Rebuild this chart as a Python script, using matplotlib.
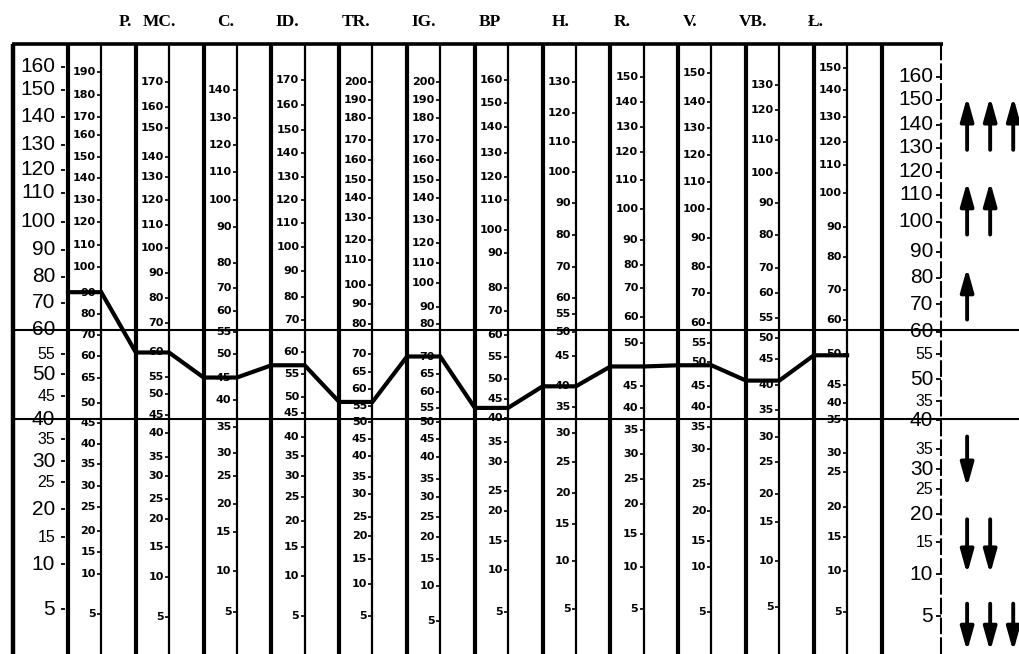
import numpy as np
import matplotlib
matplotlib.use('Agg')
import matplotlib.pyplot as plt
from matplotlib.transforms import blended_transform_factory

# escala tipica del formulario (valor -> fila impresa), no lineal
scale_vals = [0, 5, 10, 15, 20, 25, 30, 35, 40, 45, 50, 55, 60, 70, 80, 90, 100, 110, 120, 130, 140, 150, 160, 170]
scale_rows = [655, 610, 565, 538, 510, 483, 462, 440, 420, 397, 375, 355, 330, 303, 277, 250, 222, 193, 170, 145, 117, 90, 67, 44]

columns = ['P.', 'MC.', 'C.', 'ID.', 'TR.', 'IG.', 'BP', 'H.', 'R.', 'V.', 'VB.', 'Ł.']

left_labels = [160, 150, 140, 130, 120, 110, 100, 90, 80, 70, 60, 55, 50, 45, 40, 35, 30, 25, 20, 15, 10, 5]
right_labels = [160, 150, 140, 130, 120, 110, 100, 90, 80, 70, 60, 55, 50, 35, 40, 35, 30, 25, 20, 15, 10, 5]
right_std = [155.7, 146.3, 137.1, 128.8, 119.1, 109.3, 100, 89.3, 79.6, 69.3, 59.6, 55, 48.9, 43.9, 39.8, 32.7, 28.1, 23.7, 19.1, 14.1, 8.9, 4.2]

# puntuaciones directas de cada escala y su equivalente tipico
P_raw = [190, 180, 170, 160, 150, 140, 130, 120, 110, 100, 90, 80, 70, 60, 65, 50, 45, 40, 35, 30, 25, 20, 15, 10, 5]
P_std = [157.8, 148.1, 140, 133.6, 125.2, 116.5, 107.6, 100, 91.8, 83.7, 73.8, 65.6, 59.0, 54.5, 49.3, 43.6, 39.0, 33.9, 29.3, 24.3, 20.4, 16.1, 12.2, 8.9, 4.4]
MC_raw = [170, 160, 150, 140, 130, 120, 110, 100, 90, 80, 70, 60, 55, 50, 45, 40, 35, 30, 25, 20, 15, 10, 5]
MC_std = [153.5, 143.7, 136.1, 125.2, 117.0, 107.6, 98.9, 90.7, 81.5, 71.9, 62.6, 55.4, 49.5, 45.5, 40.9, 36.7, 30.9, 26.4, 21.9, 18.2, 13.1, 8.6, 4.1]
C_raw = [140, 130, 120, 110, 100, 90, 80, 70, 60, 55, 50, 45, 40, 35, 30, 25, 20, 15, 10, 5]
C_std = [150, 139.6, 130, 119.1, 107.6, 98.2, 85.2, 75.8, 66.7, 59.6, 55, 49.3, 44.3, 38.1, 32.0, 26.4, 20.9, 15.9, 9.2, 4.7]
ID_raw = [170, 160, 150, 140, 130, 120, 110, 100, 90, 80, 70, 60, 55, 50, 45, 40, 35, 30, 25, 20, 15, 10, 5]
ID_std = [154.3, 144.4, 135.4, 126.8, 117.0, 107.6, 99.6, 91.1, 81.9, 72.3, 63.7, 55.4, 50, 44.8, 41.4, 35.7, 31.1, 26.4, 22.2, 17.9, 13.1, 8.7, 4.2]
TR_raw = [200, 190, 180, 170, 160, 150, 140, 130, 120, 110, 100, 90, 80, 70, 65, 60, 55, 50, 45, 40, 35, 30, 25, 20, 15, 10, 5]
TR_std = [153.5, 146.3, 139.6, 131.8, 124.0, 115.7, 108.3, 101.4, 93.6, 86.3, 76.9, 69.3, 61.9, 55, 50.5, 46.6, 43.0, 39.3, 35, 31.1, 26.2, 22.8, 18.6, 15.2, 10.9, 7.8, 4.2]
IG_raw = [200, 190, 180, 170, 160, 150, 140, 130, 120, 110, 100, 90, 80, 70, 65, 60, 55, 50, 45, 40, 35, 30, 25, 20, 15, 10, 5]
IG_std = [153.5, 146.3, 139.6, 131.8, 124.0, 115.7, 108.3, 100.7, 92.5, 85.2, 77.7, 68.5, 61.9, 54.3, 50, 46.1, 42.5, 39.3, 35, 30.9, 25.7, 22.2, 18.6, 15, 10.9, 7.6, 3.7]
BP_raw = [160, 150, 140, 130, 120, 110, 100, 90, 80, 70, 60, 55, 50, 45, 40, 35, 30, 25, 20, 15, 10, 5]
BP_std = [154.3, 145.2, 136.4, 126.8, 117.0, 107.6, 97.1, 88.9, 75.8, 66.7, 59.0, 54.3, 48.9, 44.5, 40.2, 34.5, 29.8, 23.3, 19.6, 14.3, 9.4, 4.7]
H_raw = [130, 120, 110, 100, 90, 80, 70, 60, 55, 50, 45, 40, 35, 30, 25, 20, 15, 10, 5]
H_std = [153.5, 141.5, 131.1, 119.1, 106.6, 95.4, 83.7, 71.9, 65.6, 59.6, 54.5, 47.3, 42.7, 36.7, 29.8, 23.1, 17.3, 10.6, 5]
R_raw = [150, 140, 130, 120, 110, 100, 90, 80, 70, 60, 50, 45, 40, 35, 30, 25, 20, 15, 10, 5]
R_std = [155.7, 145.6, 136.4, 127.2, 115.7, 104.5, 93.6, 84.4, 75.8, 64.8, 57.4, 47.3, 42.5, 37.4, 31.6, 25.7, 20.9, 15.5, 9.7, 5]
V_raw = [150, 140, 130, 120, 110, 100, 90, 80, 70, 60, 55, 50, 45, 40, 35, 30, 25, 20, 15, 10, 5]
V_std = [157.4, 145.6, 136.1, 126.0, 114.8, 104.5, 94.3, 83.7, 73.8, 62.6, 57.4, 53.0, 47.3, 42.7, 38.1, 32.7, 24.6, 19.6, 14.3, 9.7, 4.7]
VB_raw = [130, 120, 110, 100, 90, 80, 70, 60, 55, 50, 45, 40, 35, 30, 25, 20, 15, 10, 5]
VB_std = [152.2, 142.6, 131.8, 118.7, 106.6, 95.4, 83.3, 73.8, 64.4, 58.4, 53.8, 47.7, 42.0, 35.5, 29.8, 22.8, 17.7, 10.6, 5.2]
E_raw = [150, 140, 130, 120, 110, 100, 90, 80, 70, 60, 50, 45, 40, 35, 30, 25, 20, 15, 10, 5]
E_std = [159.6, 150, 140, 131.1, 122.0, 110, 98.2, 87.4, 75.0, 63.7, 55, 47.7, 43.6, 39.8, 32.0, 27.4, 20.4, 15, 9.2, 4.7]

raw_scales = [P_raw, MC_raw, C_raw, ID_raw, TR_raw, IG_raw, BP_raw, H_raw, R_raw, V_raw, VB_raw, E_raw]
std_scales = [P_std, MC_std, C_std, ID_std, TR_std, IG_std, BP_std, H_std, R_std, V_std, VB_std, E_std]

# perfil del sujeto (puntuacion tipica por escala)
profile = [74.0, 55.4, 49.3, 52.3, 43.8, 54.5, 42.5, 47.3, 52.0, 52.3, 48.6, 54.8]

# flechas de la derecha: numero de flechas, punta, cola
arrow_n = [3, 2, 1, 1, 2, 3]
arrow_head = [147.4, 114.8, 83.3, 24.1, 8.9, 0.3]
arrow_tail = [128.0, 95.4, 63.7, 35.7, 18.2, 5.6]

head_dx = [0.84, 0.35, 0.33, 0.23, 0.25, 0.25, 0.22, 0.26, 0.17, 0.17, 0.10, 0.02]

fig = plt.figure(figsize=(10.2, 6.54), dpi=100)
ax = fig.add_axes([0, 0, 1, 610 / 654])

rows_rev = scale_rows[::-1]
vals_rev = scale_vals[::-1]
def fwd(v):
    return -np.interp(v, scale_vals, scale_rows)
def inv(p):
    return np.interp(-np.asarray(p), rows_rev, vals_rev)

ax.set_yscale('function', functions=(fwd, inv))
ax.set_ylim(0, 170)
ax.set_xlim(-1.003, 14.04)
ax.axis('off')

ncol = len(columns)
thin = 0.49

# rejilla del formulario
ax.vlines(np.arange(ncol + 1), 0, 170, color='k', lw=3.0)
ax.vlines(np.arange(ncol) + thin, 0, 170, color='k', lw=1.6)
ax.vlines(-0.81, 0, 170, color='k', lw=3.2)
ax.vlines(12.88, 0, 170, color='k', lw=1.5, linestyles=(0, (8, 1.5)))
ax.hlines(170, -0.83, 12.9, color='k', lw=2.6, clip_on=False)
ax.hlines([60, 40], -0.82, 14.04, color='k', lw=1.5)

big = dict(family=['Liberation Sans', 'DejaVu Sans'], size=15)
small = dict(family=['Liberation Sans', 'DejaVu Sans'], size=11.5)

for lab in left_labels:
    st = big if (lab % 10 == 0 or lab == 5) else small
    ax.text(-0.19, lab, str(lab), ha='right', va='center', **st)
ax.hlines(left_labels, -0.10, -0.04, color='k', lw=1.3)

for lab, s in zip(right_labels, right_std):
    st = big if (lab % 10 == 0 or lab == 5) else small
    ax.text(12.76, s, str(lab), ha='right', va='center', **st)
ax.hlines(right_std, 12.80, 12.88, color='k', lw=1.3)

for i in range(ncol):
    for lab, s in zip(raw_scales[i], std_scales[i]):
        ax.text(i + 0.41, s, str(lab), ha='right', va='center',
                family='DejaVu Sans', weight='bold', size=8)
    ax.hlines(std_scales[i], i + 0.43, i + thin, color='k', lw=1.2)

# cabecera
trans = blended_transform_factory(ax.transData, fig.transFigure)
for i, name in enumerate(columns):
    ax.text(i + head_dx[i], 1 - 22 / 654, name, transform=trans, ha='center', va='center',
            family=['Liberation Serif', 'DejaVu Serif'], weight='bold', size=12.5)

# linea de perfil
xs = np.ravel([[i, i + thin] for i in range(ncol)])
ys = np.repeat(profile, 2)
ax.plot(xs, ys, color='k', lw=3.0, solid_joinstyle='miter', zorder=5)

# flechas
for n, h, t in zip(arrow_n, arrow_head, arrow_tail):
    for k in range(n):
        x = 13.26 + 0.34 * k
        ax.annotate('', xy=(x, h), xytext=(x, t), annotation_clip=False,
                    arrowprops=dict(arrowstyle='-|>,head_length=1.0,head_width=0.28',
                                    lw=2.8, color='k', shrinkA=0, shrinkB=0, mutation_scale=14))

fig.savefig('out.png', dpi=100, facecolor='white')
